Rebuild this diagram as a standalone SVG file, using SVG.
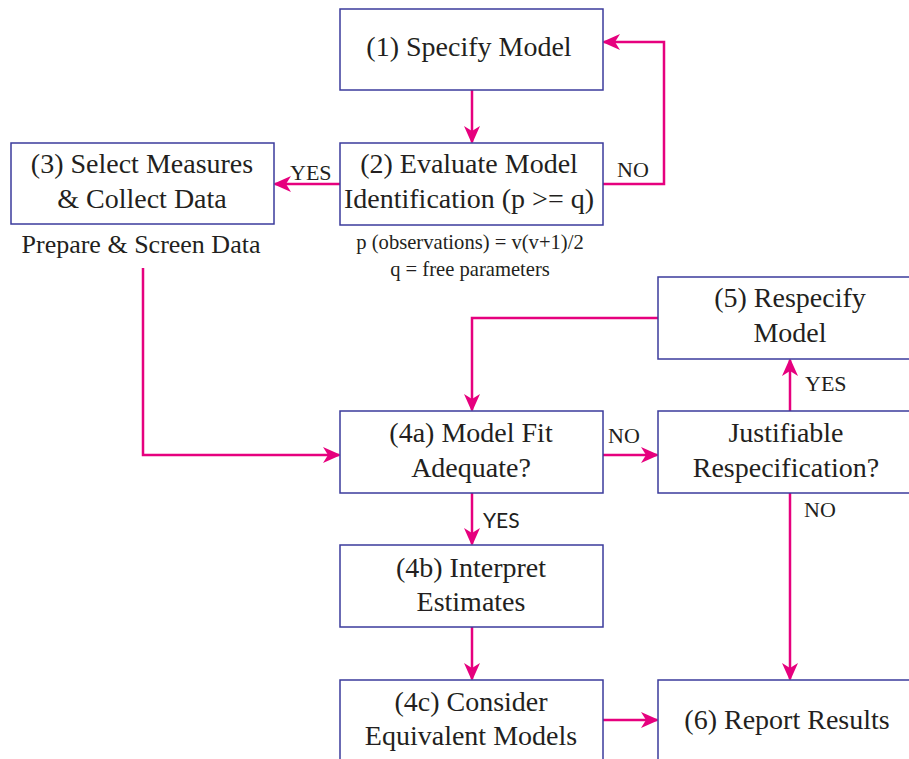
<svg xmlns="http://www.w3.org/2000/svg" width="909" height="759" viewBox="0 0 909 759">
<style>
.box{fill:#fff;stroke:#3b3b9c;stroke-width:1.5}
.t{font-family:'Liberation Serif',serif;font-size:28px;fill:#231f20;text-anchor:middle}
.s{font-family:'Liberation Serif',serif;font-size:22px;fill:#231f20}
.n{font-family:'Liberation Serif',serif;font-size:20.6px;fill:#231f20;text-anchor:middle}
.ss{font-family:Lato,'Liberation Sans',sans-serif;font-size:21px;fill:#231f20}
.c{fill:none;stroke:#e6007e;stroke-width:2.5}
</style>
<defs>
<marker id="ah" markerWidth="18" markerHeight="16" refX="16" refY="8" orient="auto" markerUnits="userSpaceOnUse" viewBox="0 0 18 16">
<path d="M0,0 L18,8 L0,16 L5,8 Z" fill="#e6007e"/>
</marker>
</defs>
<rect width="909" height="759" fill="#fff"/>
<g id="connectors">
<path class="c" d="M472,90 V142" marker-end="url(#ah)"/>
<path class="c" d="M603,184 H664 V42 H604" marker-end="url(#ah)"/>
<path class="c" d="M340,184 H275" marker-end="url(#ah)"/>
<path class="c" d="M143,268 V455 H339" marker-end="url(#ah)"/>
<path class="c" d="M658,318 H472 V410" marker-end="url(#ah)"/>
<path class="c" d="M603,455 H657" marker-end="url(#ah)"/>
<path class="c" d="M790,411 V360" marker-end="url(#ah)"/>
<path class="c" d="M790,493 V679" marker-end="url(#ah)"/>
<path class="c" d="M472,493 V544" marker-end="url(#ah)"/>
<path class="c" d="M472,627 V679" marker-end="url(#ah)"/>
<path class="c" d="M603,720 H657" marker-end="url(#ah)"/>
<text class="s" x="617" y="177">NO</text>
<text class="s" x="290" y="180">YES</text>
<text class="s" x="608" y="443">NO</text>
<text class="s" x="805" y="391">YES</text>
<text class="s" x="804" y="517">NO</text>
<text class="ss" x="483" y="528">YES</text>
</g>
<g id="n1"><rect class="box" x="340" y="9" width="263" height="81"/><text class="t" x="469" y="56">(1) Specify Model</text></g>
<g id="n2"><rect class="box" x="340" y="143" width="263" height="82"/><text class="t" x="469" y="173">(2) Evaluate Model</text><text class="t" x="469" y="208">Identification (p &gt;= q)</text></g>
<g id="n2note"><text class="n" x="470" y="249">p (observations) = v(v+1)/2</text><text class="n" x="470" y="276">q = free parameters</text></g>
<g id="n3"><rect class="box" x="11" y="143" width="263" height="81"/><text class="t" x="142" y="173">(3) Select Measures</text><text class="t" x="142" y="208">&amp; Collect Data</text><text class="t" x="141" y="253" style="font-size:26px">Prepare &amp; Screen Data</text></g>
<g id="n5"><rect class="box" x="658" y="277" width="260" height="82"/><text class="t" x="790" y="307">(5) Respecify</text><text class="t" x="790" y="342">Model</text></g>
<g id="nj"><rect class="box" x="658" y="411" width="260" height="82"/><text class="t" x="786" y="442">Justifiable</text><text class="t" x="786" y="477">Respecification?</text></g>
<g id="n4a"><rect class="box" x="340" y="411" width="263" height="82"/><text class="t" x="471" y="442">(4a) Model Fit</text><text class="t" x="471" y="477">Adequate?</text></g>
<g id="n4b"><rect class="box" x="340" y="545" width="263" height="82"/><text class="t" x="471" y="577">(4b) Interpret</text><text class="t" x="471" y="611">Estimates</text></g>
<g id="n4c"><rect class="box" x="340" y="680" width="263" height="90"/><text class="t" x="471" y="711">(4c) Consider</text><text class="t" x="471" y="745">Equivalent Models</text></g>
<g id="n6"><rect class="box" x="658" y="680" width="260" height="90"/><text class="t" x="787" y="729">(6) Report Results</text></g>
</svg>
